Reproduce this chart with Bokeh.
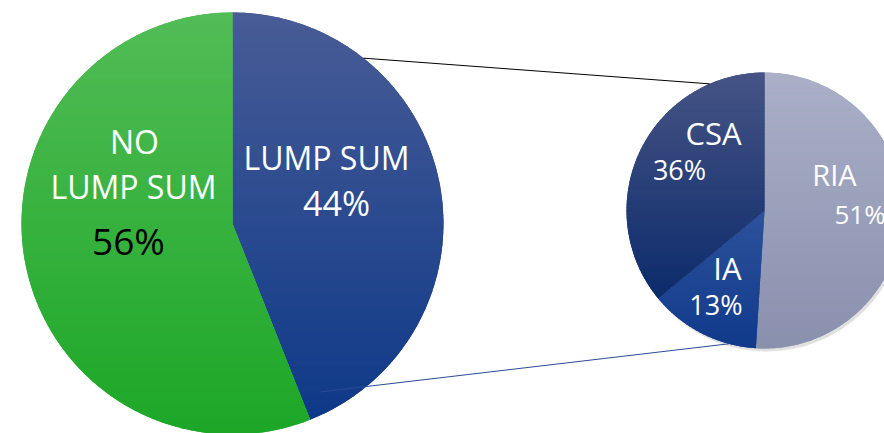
import numpy as np
from bokeh.plotting import figure
from bokeh.models import Range1d
from bokeh.core.properties import value
from bokeh.embed import file_html
from bokeh.resources import INLINE

# ---------------- data ----------------
main_labels = ["LUMP SUM", "NO LUMP SUM"]
main_pct = [44, 56]
sub_labels = ["RIA", "IA", "CSA"]
sub_pct = [51, 13, 36]

# ---------------- styles / layout ----------------
W, H = 884, 433
main_top = ["#485c96", "#52bc56"]
main_bot = ["#0e3988", "#1ca727"]
sub_top = ["#abafc8", "#2e529c", "#465485"]
sub_bot = ["#8990ad", "#103a8a", "#0c2b6b"]

big_c, big_r = (232, 210), 211
small_c, small_r = (764, 223), 138


def hex2rgb(h):
    h = h.lstrip("#")
    return np.array([int(h[i:i + 2], 16) for i in (0, 2, 4)], dtype=float)


def mix(a, b, t):
    c = hex2rgb(a) * (1 - t) + hex2rgb(b) * t
    return "#%02x%02x%02x" % tuple(int(round(v)) for v in c)


def wedge_poly(c, r, a0, a1, n=240):
    ang = np.linspace(a0, a1, n)
    xs = [c[0]] + list(c[0] + r * np.cos(ang))
    ys = [c[1]] + list(c[1] + r * np.sin(ang))
    return list(zip(xs, ys))


def clip_half(pts, keep, ycut):
    out = []
    n = len(pts)
    for i in range(n):
        p, q = pts[i], pts[(i + 1) % n]
        pin, qin = keep(p[1]), keep(q[1])
        if pin:
            out.append(p)
        if pin != qin:
            t = (ycut - p[1]) / (q[1] - p[1])
            out.append((p[0] + t * (q[0] - p[0]), ycut))
    return out


def strips(c, r, a0, a1, ctop, cbot, n=70):
    poly = wedge_poly(c, r, a0, a1)
    ys = [p[1] for p in poly]
    ymin, ymax = min(ys), max(ys)
    xs_out, ys_out, cols = [], [], []
    edges = np.linspace(ymin, ymax, n + 1)
    for k in range(n):
        y0, y1 = edges[k], min(edges[k + 1] + 0.8, ymax)
        pts = clip_half(poly, lambda y: y >= y0, y0)
        if len(pts) < 3:
            continue
        pts = clip_half(pts, lambda y: y <= y1, y1)
        if len(pts) < 3:
            continue
        xs_out.append([p[0] for p in pts])
        ys_out.append([p[1] for p in pts])
        t = 1 - (0.5 * (edges[k] + edges[k + 1]) - ymin) / (ymax - ymin)
        cols.append(mix(ctop, cbot, t))
    return xs_out, ys_out, cols


def slice_angles(pcts):
    # clockwise from 12 o'clock, converted to counter-clockwise radians from +x
    out = []
    cum = 0.0
    for v in pcts:
        s = np.pi / 2 - 2 * np.pi * (cum + v) / 100.0
        e = np.pi / 2 - 2 * np.pi * cum / 100.0
        out.append((s, e))
        cum += v
    return out


p = figure(width=W, height=H, x_range=Range1d(0, W), y_range=Range1d(0, H),
           output_backend="svg", toolbar_location=None, min_border=0,
           x_axis_type=None, y_axis_type=None)
p.grid.visible = False
p.outline_line_color = None
p.background_fill_color = "white"
p.border_fill_color = "white"

# shadow of the small pie
p.circle(x=[small_c[0] + 2], y=[small_c[1] - 3], radius=small_r,
         fill_color="#000000", fill_alpha=0.12, line_color=None)


def draw_pie(c, r, pcts, tops, bots):
    for (s, e), ct, cb in zip(slice_angles(pcts), tops, bots):
        p.wedge(x=[c[0]], y=[c[1]], radius=r, start_angle=s, end_angle=e,
                fill_color=mix(ct, cb, 0.5), line_color=None)
        xs, ys, cols = strips(c, r, s, e, ct, cb)
        p.patches(xs=xs, ys=ys, fill_color=cols, line_color=None)


draw_pie(big_c, big_r, main_pct, main_top, main_bot)
draw_pie(small_c, small_r, sub_pct, sub_top, sub_bot)

# connector lines
conn = [  # (big radius fraction, big angle deg, small angle deg, colour)
    (1.0, 51.6, 113.4, "#000000"),
    (0.9, -62.5, -105.0, "#2b4b95"),
]
for fr, ab, asm, col in conn:
    x0 = big_c[0] + fr * big_r * np.cos(np.radians(ab))
    y0 = big_c[1] + fr * big_r * np.sin(np.radians(ab))
    x1 = small_c[0] + small_r * np.cos(np.radians(asm))
    y1 = small_c[1] + small_r * np.sin(np.radians(asm))
    p.line(x=[x0, x1], y=[y0, y1], line_color=col, line_width=1)

# labels
FONT = value("Open Sans")


def label(x, y, txt, size, color="white", align="center"):
    p.text(x=[x], y=[y], text=[txt], text_font=FONT, text_font_size=value(size),
           text_color=color, text_align=align, text_baseline="middle")


label(326, 276, main_labels[0], "32px")
label(336, 231, f"{main_pct[0]}%", "34px")
no_a, no_b = main_labels[1].split(" ", 1)
label(134, 292, no_a, "32px")
label(133, 247, no_b, "32px")
label(128, 193, f"{main_pct[1]}%", "37px", color="black")

label(713, 301, sub_labels[2], "31px")
label(679, 264, f"{sub_pct[2]}%", "27px")
label(834, 259, sub_labels[0], "29px")
label(834, 220, f"{sub_pct[0]}%", "26px", align="left")
label(727, 166, sub_labels[1], "31px")
label(742, 129, f"{sub_pct[1]}%", "27px", align="right")

open("out.html", "w").write(file_html(p, INLINE))
